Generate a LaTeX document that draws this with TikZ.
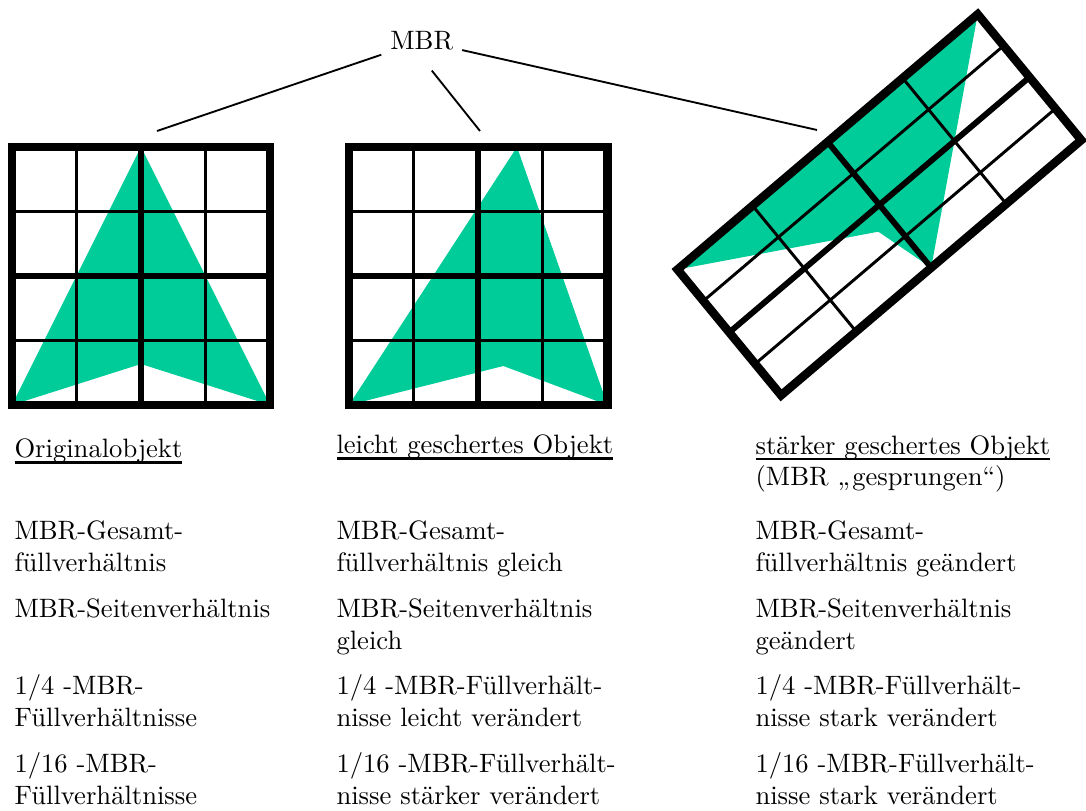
\documentclass[tikz,border=0pt]{standalone}
\usetikzlibrary{calc}
\definecolor{fillgreen}{RGB}{0,204,153}
\tikzset{
  thinline/.style={line width=1.1pt},
  midline/.style={line width=2.2pt},
  frameline/.style={line width=3.2pt, line join=miter},
  conn/.style={line width=0.7pt},
  lbl/.style={anchor=base west, inner sep=0pt, align=left},
  mbrnode/.style={inner xsep=3.2pt, inner ysep=7.4pt}
}
\newsavebox\ulbox
\newcommand\ulx[1]{\sbox\ulbox{#1}\rlap{\rule[-2.35pt]{\wd\ulbox}{0.85pt}}\usebox\ulbox}
\newcommand\mbrgrid[4]{%
  \foreach \gp in {0.25,0.75} {
    \draw[thinline] ($(#1)!\gp!(#2)$) -- ($(#4)!\gp!(#3)$);
    \draw[thinline] ($(#1)!\gp!(#4)$) -- ($(#2)!\gp!(#3)$);
  }
  \draw[midline] ($(#1)!0.5!(#2)$) -- ($(#4)!0.5!(#3)$);
  \draw[midline] ($(#1)!0.5!(#4)$) -- ($(#2)!0.5!(#3)$);
  \draw[frameline] (#1) -- (#2) -- (#3) -- (#4) -- cycle;
}
\begin{document}
\begin{tikzpicture}[x=0.376pt,y=-0.376pt]
\useasboundingbox (0,0) rectangle (1086,811);

% ---- grid 1: original object
\coordinate (g1a) at (12,147);
\coordinate (g1b) at (270,147);
\coordinate (g1c) at (270,405);
\coordinate (g1d) at (12,405);
\fill[fillgreen] (141,147) -- (g1d) -- (141,364) -- (g1c) -- cycle;
\mbrgrid{g1a}{g1b}{g1c}{g1d}

% ---- grid 2: slightly sheared object
\coordinate (g2a) at (349,147);
\coordinate (g2b) at (607.5,147);
\coordinate (g2c) at (607.5,405);
\coordinate (g2d) at (349,405);
\fill[fillgreen] (517,147) -- (g2d) -- (503.3,366) -- (g2c) -- cycle;
\mbrgrid{g2a}{g2b}{g2c}{g2d}

% ---- grid 3: strongly sheared object (rotated MBR)
\coordinate (g3a) at (677.5,269.5);
\coordinate (g3b) at (977.7,14.3);
\coordinate (g3c) at (1081.3,140.1);
\coordinate (g3d) at (781.1,395.3);
\fill[fillgreen] (g3b) -- (g3a) -- (878.3,231.7) -- ($(g3d)!0.5!(g3c)$) -- cycle;
\mbrgrid{g3a}{g3b}{g3c}{g3d}

% ---- MBR label and connectors
\node[mbrnode] (mbr) at (421.7,41) {MBR};
\coordinate (e1) at (157,131);
\coordinate (e2) at (480,131);
\coordinate (e3) at (817,130);
\draw[conn] (mbr) -- (e1);
\draw[conn] ([xshift=3.8pt]mbr.south) -- (e2);
\draw[conn] (mbr) -- (e3);

% ---- titles (base anchor = baseline of last line)
\node[lbl] (t1) at (14,457.5) {\ulx{Originalobjekt}};
\node[lbl] (t2) at (336,453.5) {\ulx{leicht geschertes Objekt}};
\node[lbl] (t3) at (755,486) {\ulx{stärker geschertes Objekt}\\(MBR „gesprungen“)};

% ---- row 1
\node[lbl] (r1a) at (14,571.9) {MBR-Gesamt-\\füllverhältnis};
\node[lbl] (r1b) at (336,571.9) {MBR-Gesamt-\\füllverhältnis gleich};
\node[lbl] (r1c) at (755,571.9) {MBR-Gesamt-\\füllverhältnis geändert};
% ---- row 2
\node[lbl] (r2a) at (14,617.5) {MBR-Seitenverhältnis};
\node[lbl] (r2b) at (336,649.4) {MBR-Seitenverhältnis\\gleich};
\node[lbl] (r2c) at (755,649.4) {MBR-Seitenverhältnis\\geändert};
% ---- row 3
\node[lbl] (r3a) at (14,726.6) {1/4 -MBR-\\Füllverhältnisse};
\node[lbl] (r3b) at (336,726.6) {1/4 -MBR-Füllverhält-\\nisse leicht verändert};
\node[lbl] (r3c) at (755,726.6) {1/4 -MBR-Füllverhält-\\nisse stark verändert};
% ---- row 4
\node[lbl] (r4a) at (14,804) {1/16 -MBR-\\Füllverhältnisse};
\node[lbl] (r4b) at (336,804) {1/16 -MBR-Füllverhält-\\nisse stärker verändert};
\node[lbl] (r4c) at (755,804) {1/16 -MBR-Füllverhält-\\nisse stark verändert};
\end{tikzpicture}
\end{document}
